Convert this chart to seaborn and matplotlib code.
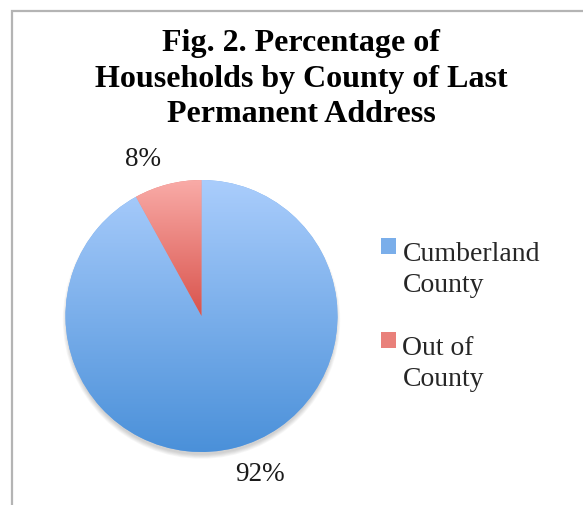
import numpy as np
import matplotlib
matplotlib.use("Agg")
import matplotlib.pyplot as plt
import seaborn as sns
from matplotlib.patches import Rectangle, Circle
from matplotlib.legend_handler import HandlerPatch
from matplotlib.colors import LinearSegmentedColormap

# ---- data ----
categories = ["Cumberland\nCounty", "Out of\nCounty"]
values = [92, 8]
title = "Fig. 2. Percentage of\nHouseholds by County of Last\nPermanent Address"
top_colors = ["#aacdfc", "#f9aba7"]
bottom_colors = ["#4a90d9", "#d9534c"]
mid_colors = ["#7aaeea", "#e9807a"]

sns.set_theme(style="white")
plt.rcParams["font.family"] = ["Liberation Serif", "DejaVu Serif"]

W, H = 583, 506
fig = plt.figure(figsize=(W / 100, H / 100), dpi=100)

# pie axes: center (201.5,317) px, radius 136 px, limits +-1.3
cx, cy, r = 201.5, 317, 136
L = 1.3
half = L * r
ax = fig.add_axes([(cx - half) / W, (H - cy - half) / H, 2 * half / W, 2 * half / H])

wedges, texts, autotexts = ax.pie(
    values, colors=mid_colors, startangle=90, counterclock=False,
    autopct=lambda p: f"{p:.0f}%", pctdistance=1.235,
    wedgeprops=dict(linewidth=0), textprops=dict(fontsize=19.5, color="#1a1a1a"))
ax.set_aspect("equal")
ax.axis("off")

# label placement (slightly rotated like the original)
for w, t in zip(wedges, autotexts):
    ang = np.deg2rad((w.theta1 + w.theta2) / 2 + 6)
    t.set_position((1.235 * np.cos(ang), 1.235 * np.sin(ang)))
    t.set_ha("center")
    t.set_va("center")

# soft shadow (bottom)
for i in range(6):
    sh = Circle((0, -0.03), 0.99 + 0.006 * i, color="black", alpha=0.03, lw=0, zorder=0)
    ax.add_patch(sh)

# vertical gradient fills clipped to each wedge
for w, tc, bc in zip(wedges, top_colors, bottom_colors):
    w.set_zorder(1)
    cmap = LinearSegmentedColormap.from_list("g", [bc, tc])
    verts = w.get_path().vertices
    ymin, ymax = verts[:, 1].min(), verts[:, 1].max()
    xmin, xmax = verts[:, 0].min(), verts[:, 0].max()
    grad = np.linspace(0, 1, 256).reshape(-1, 1)
    im = ax.imshow(grad, cmap=cmap, origin="lower", aspect="auto",
                   extent=[xmin, xmax, ymin, ymax], zorder=2)
    im.set_clip_path(w)
ax.set_xlim(-L, L)
ax.set_ylim(-L, L)

# title
fig.text(301 / W, 1 - 29 / H, title, ha="center", va="top", fontsize=23,
         fontweight="bold", color="black", linespacing=1.3)

# border frame
fig.patches.append(Rectangle((11.5 / W, -0.1), 1.2, 1 - 11.5 / H + 0.1,
                             transform=fig.transFigure, fill=False,
                             edgecolor="#b4b4b4", linewidth=1.6))

# legend with handles aligned to first line
fs = 20
def make_patch(legend, orig_handle, xdescent, ydescent, width, height, fontsize):
    shift = 0.82 * fontsize
    return Rectangle((-xdescent, -ydescent + shift), width, height)

leg = fig.legend(wedges, categories, loc="upper left",
                 bbox_to_anchor=(381 / W, 1 - 242 / H), frameon=False,
                 borderaxespad=0, borderpad=0,
                 fontsize=fs, handlelength=0.53, handleheight=0.53,
                 handletextpad=0.24, labelspacing=1.35,
                 handler_map={type(wedges[0]): HandlerPatch(patch_func=make_patch)})
for txt in leg.get_texts():
    txt.set_linespacing(1.33)

fig.savefig("out.png", dpi=100)
